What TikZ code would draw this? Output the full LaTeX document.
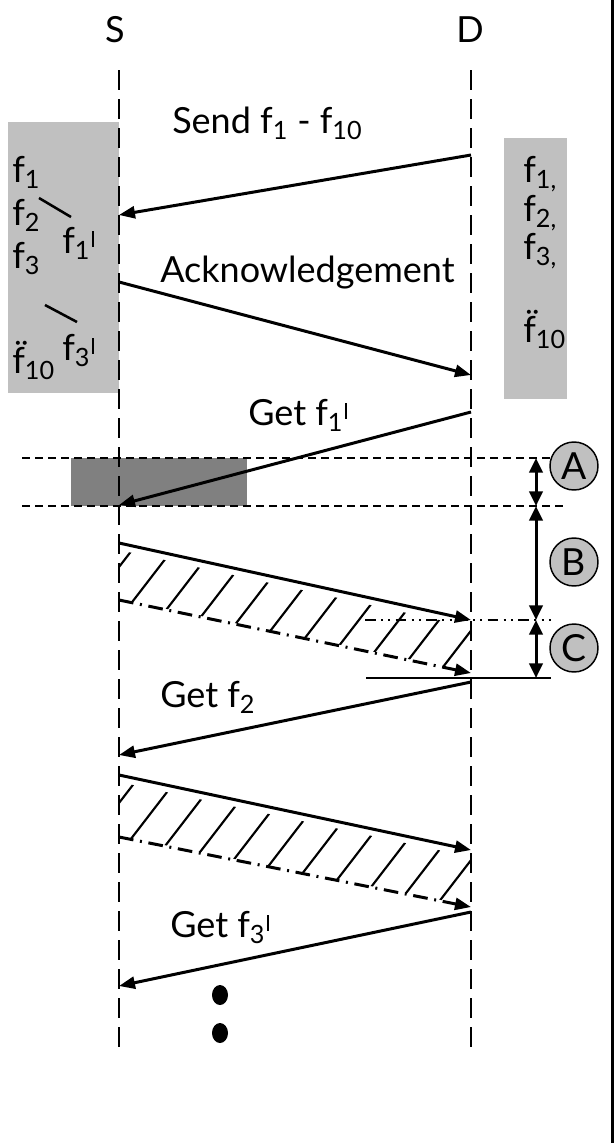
\documentclass[tikz,border=0pt]{standalone}
\usepackage{fontspec}
\setmainfont{Lato}
\usetikzlibrary{arrows.meta}
\definecolor{boxgray}{HTML}{C0C0C0}
\definecolor{shadegray}{HTML}{808080}
% f with a subscript, and f with a subscript and a prime stroke
\newcommand{\fsub}[1]{f\textsubscript{#1}}
\newcommand{\primestroke}{\kern0.04em\raisebox{0.17em}{\rule{0.07em}{0.43em}}}
\newcommand{\fsubp}[1]{f\textsubscript{#1}\primestroke}
\tikzset{
  lifeline/.style={line width=1.5pt, dash pattern=on 15pt off 6.75pt},
  msg/.style={line width=2.25pt, -{Triangle[length=12pt,width=9pt]}},
  msgdd/.style={msg, dash pattern=on 11pt off 5pt on 1.5pt off 5pt},
  guide/.style={line width=1.1pt, dash pattern=on 6pt off 3.75pt},
  guidedd/.style={line width=1.1pt, dash pattern=on 8pt off 4pt on 1.5pt off 4pt on 1.5pt off 4pt},
  spanarrow/.style={line width=2.25pt, {Triangle[length=11pt,width=10pt]}-{Triangle[length=11pt,width=10pt]}},
  txt/.style={font=\fontsize{27}{31}\selectfont, inner sep=0pt, anchor=base west},
  tag/.style={circle, draw, line width=1.1pt, fill=boxgray, minimum size=36pt,
              inner sep=0pt, font=\fontsize{28}{32}\selectfont},
  hatch/.style={line width=1.6pt},
  link/.style={line width=1.9pt},
}
\begin{document}
\begin{tikzpicture}[x=0.75pt,y=-0.75pt]
\useasboundingbox (0,0) rectangle (614,1143);

% buffers at both ends
\fill[boxgray] (8,122) rectangle (119,393);
\fill[boxgray] (504,138) rectangle (567,399);
\fill[shadegray] (71,458) rectangle (247,506);

% lifelines
\node[txt, anchor=base] (S) at (115,42) {S};
\node[txt, anchor=base] (D) at (470,42) {D};
\coordinate (Stop) at (119,70);  \coordinate (Sbot) at (119,1050);
\coordinate (Dtop) at (471,70);  \coordinate (Dbot) at (471,1050);
\draw[lifeline] (Stop) -- (Sbot);
\draw[lifeline] (Dtop) -- (Dbot);

% contents of the source buffer
\node[txt] (l1) at (12,182) {\fsub{1}};
\node[txt] (l2) at (12,225) {\fsub{2}};
\node[txt] (l3) at (12,268) {\fsub{3}};
\node[txt] (l10) at (12,373) {\"f\textsubscript{10}};
\node[txt] (l1p) at (62,253) {\fsubp{1}};
\node[txt] (l3p) at (62,360) {\fsubp{3}};
\coordinate (ka) at (39,198); \coordinate (kb) at (71,217);
\coordinate (kc) at (45,305); \coordinate (kd) at (77,322);
\draw[link] (ka) -- (kb);
\draw[link] (kc) -- (kd);

% contents of the destination buffer
\node[txt] (r1) at (523,182) {f\textsubscript{1,}};
\node[txt] (r2) at (523,221) {f\textsubscript{2,}};
\node[txt] (r3) at (523,259) {f\textsubscript{3,}};
\node[txt] (r10) at (523,342) {\"f\textsubscript{10}};

% message points on the lifelines
\coordinate (d1) at (471,155); \coordinate (s1) at (119,215);
\coordinate (s2) at (119,282); \coordinate (d2) at (471,375);
\coordinate (d3) at (471,412); \coordinate (s3) at (119,505);
\coordinate (s4) at (119,543); \coordinate (d4) at (471,620);
\coordinate (s5) at (119,600); \coordinate (d5) at (471,673);
\coordinate (d6) at (471,682); \coordinate (s6) at (119,755);
\coordinate (s7) at (119,775); \coordinate (d7) at (471,850);
\coordinate (s8) at (119,837); \coordinate (d8) at (471,907);
\coordinate (d9) at (471,912); \coordinate (s9) at (119,986);

% timing guides
\coordinate (ga1) at (22,458);  \coordinate (ga2) at (551,458);
\coordinate (gb1) at (22,506);  \coordinate (gb2) at (563,506);
\coordinate (gc1) at (365,620); \coordinate (gc2) at (551,620);
\coordinate (gd1) at (366,678); \coordinate (gd2) at (551,678);
\draw[guide] (ga1) -- (ga2);
\draw[guide] (gb1) -- (gb2);
\draw[guidedd] (gc1) -- (gc2);
\draw[line width=2pt] (gd1) -- (gd2);

% hatched transfer bands
\begin{scope}
  \clip (119,550) -- (471,627) -- (471,672) -- (119,599) -- cycle;
  \foreach \k in {0,...,10} {
    \pgfmathsetmacro\c{555.6+40.1*\k}
    \draw[hatch] ({\c-0.77*720},720) -- ({\c-0.77*480},480);
  }
\end{scope}
\begin{scope}
  \clip (119,782) -- (471,857) -- (471,906) -- (119,836) -- cycle;
  \foreach \k in {0,...,10} {
    \pgfmathsetmacro\c{737.3+39.6*\k}
    \draw[hatch] ({\c-0.77*960},960) -- ({\c-0.77*720},720);
  }
\end{scope}

% messages
\draw[msg] (d1) -- (s1);
\draw[msg] (s2) -- (d2);
\draw[msg] (d3) -- (s3);
\draw[msg] (s4) -- (d4);
\draw[msgdd] (s5) -- (d5);
\draw[msg] (d6) -- (s6);
\draw[msg] (s7) -- (d7);
\draw[msgdd] (s8) -- (d8);
\draw[msg] (d9) -- (s9);

\node[txt] (m1) at (172,133) {Send \fsub{1} - \fsub{10}};
\node[txt] (m2) at (160,282) {Acknowledgement};
\node[txt] (m3) at (248,425) {Get \fsubp{1}};
\node[txt] (m6) at (160,707) {Get \fsub{2}};
\node[txt] (m9) at (170,937) {Get \fsubp{3}};

% interval markers
\coordinate (ia) at (536,458); \coordinate (ib) at (536,506);
\coordinate (ic) at (536,620); \coordinate (id) at (536,678);
\draw[spanarrow] (ia) -- (ib);
\draw[spanarrow] (ib) -- (ic);
\draw[spanarrow] (ic) -- (id);
\node[tag] (A) at (574,466) {A};
\node[tag] (B) at (574,562) {B};
\node[tag] (C) at (574,648) {C};

% continuation dots
\fill (220,995) ellipse [x radius=8, y radius=10];
\fill (220,1033) ellipse [x radius=8, y radius=10];

% frame edge
\draw[line width=2pt] (612.5,0) -- (612.5,1143);
\end{tikzpicture}
\end{document}
